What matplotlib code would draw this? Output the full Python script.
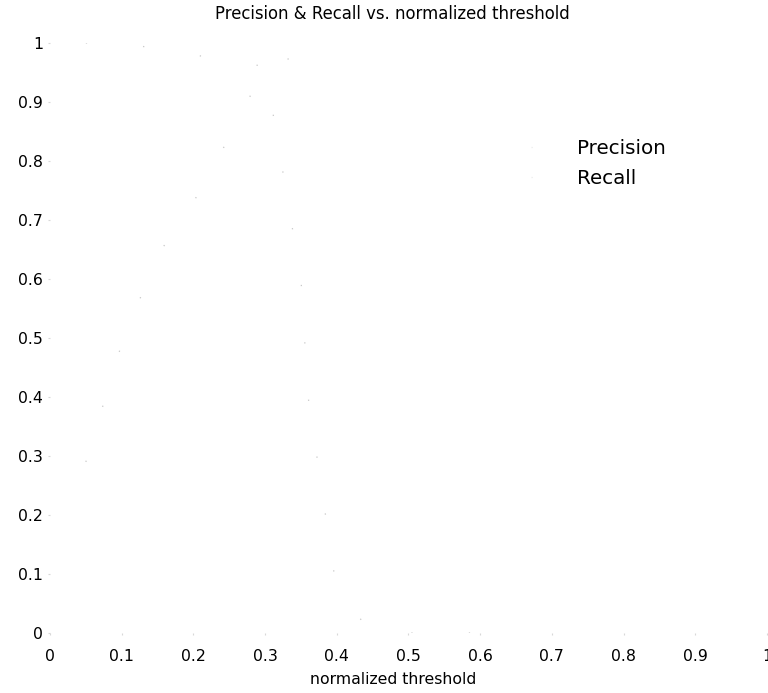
import numpy as np
import matplotlib
matplotlib.use("Agg")
import matplotlib.pyplot as plt

plt.rcParams['font.family'] = ['DejaVu Sans']

threshold = [0.05, 0.10, 0.15, 0.20, 0.25, 0.30, 0.35, 0.36, 0.40, 0.45, 0.50, 0.55, 0.60, 0.65]
precision = [0.29, 0.49, 0.64, 0.73, 0.84, 0.96, 0.98, 0.99, 1.00, np.nan, np.nan, np.nan, np.nan, np.nan]
recall = [1.00, 1.00, 0.99, 0.98, 0.97, 0.96, 0.60, 0.40, 0.07, 0.00, 0.00, 0.00, 0.00, 0.00]

xticks = [0, 0.1, 0.2, 0.3, 0.4, 0.5, 0.6, 0.7, 0.8, 0.9, 1]
yticks = [0, 0.1, 0.2, 0.3, 0.4, 0.5, 0.6, 0.7, 0.8, 0.9, 1]

fs = 11.3

fig = plt.figure(figsize=(7.68, 6.93), dpi=100)
ax = fig.add_axes([0.0651, 0.0866, 0.9336, 0.8514])

faint = '#c8c8c8'
ax.plot(threshold, precision, color=faint, lw=0.9, ls=(0, (1, 45)), label='Precision')
ax.plot(threshold, recall, color=faint, lw=0.9, ls=(0, (1, 45)), label='Recall')

ax.set_xlim(0, 1)
ax.set_ylim(0, 1)
ax.set_xticks(xticks)
ax.set_xticklabels([f"{t:g}" for t in xticks])
ax.set_yticks(yticks)
ax.set_yticklabels([f"{t:g}" for t in yticks])
ax.tick_params(length=1.5, width=0.8, color='#d8d8d8', labelsize=fs, pad=3.5)
ax.tick_params(axis='x', pad=10)
for s in ax.spines.values():
    s.set_visible(False)

leg = ax.legend(loc='upper left', bbox_to_anchor=(0.646, 0.868), frameon=False,
                fontsize=14.3, handlelength=1.6, handletextpad=0.7, labelspacing=0.55)
for line in leg.get_lines():
    line.set_color('#ececec')

fig.text(392 / 768, 1 - 14 / 693, 'Precision & Recall vs. normalized threshold',
         ha='center', va='center', fontsize=11.9)
fig.text(393 / 768, 1 - 679 / 693, 'normalized threshold',
         ha='center', va='center', fontsize=fs)

fig.savefig('out.png', dpi=100, facecolor='white')
